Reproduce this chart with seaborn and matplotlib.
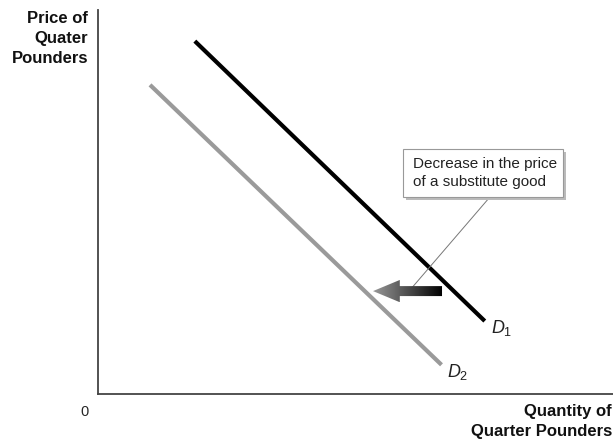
import matplotlib
matplotlib.use("Agg")
import matplotlib.pyplot as plt
import numpy as np
import pandas as pd
import seaborn as sns
from matplotlib.patches import Polygon, Rectangle

# demand curves (quantity, price) on a 0-100 scale
d1_q = [18.8, 75.1]
d1_p = [91.9, 19.0]
d2_q = [10.1, 66.7]
d2_p = [80.5, 7.6]

# shift arrow: tail -> tip, at constant price
shift_q = [66.8, 53.4]
shift_p = 26.8

callout_text = "Decrease in the price\nof a substitute good"
y_label = "Price of\nQuater\nPounders"
x_label = "Quantity of\nQuarter Pounders"

curves = pd.concat([
    pd.DataFrame({"q": d1_q, "p": d1_p, "curve": "D1"}),
    pd.DataFrame({"q": d2_q, "p": d2_p, "curve": "D2"}),
])

sns.set_style("white")
plt.rcParams["font.family"] = ["Liberation Sans", "DejaVu Sans"]
plt.rcParams["mathtext.fontset"] = "custom"
plt.rcParams["mathtext.rm"] = "Liberation Sans"
plt.rcParams["mathtext.it"] = "Liberation Sans:italic"

fig = plt.figure(figsize=(6.13, 4.4), dpi=100)
ax = fig.add_axes([98 / 613, 46 / 440, 515 / 613, 384 / 440])

sns.lineplot(data=curves, x="q", y="p", hue="curve", palette={"D1": "black", "D2": "#9a9a9a"},
             linewidth=3.0, legend=False, ax=ax, solid_capstyle="butt", sort=False)

ax.set_xlim(0, 100)
ax.set_ylim(0, 100)
ax.set_xlabel("")
ax.set_ylabel("")
ax.set_xticks([])
ax.set_yticks([])
for side in ["top", "right"]:
    ax.spines[side].set_visible(False)
for side in ["left", "bottom"]:
    ax.spines[side].set_color("#444444")
    ax.spines[side].set_linewidth(1.3)

# curve labels
ax.text(d1_q[1] + 1.2, d1_p[1] - 1.8, r"$D_{\mathrm{1}}$", fontsize=13, va="center", ha="left",
        color="#222222")
ax.text(d2_q[1] + 1.0, d2_p[1] - 1.8, r"$D_{\mathrm{2}}$", fontsize=13, va="center", ha="left",
        color="#222222")

# gradient arrow
tail, tip = shift_q
head_len = 5.2
body_h, head_h = 1.3, 2.9
verts = [(tip, shift_p), (tip + head_len, shift_p + head_h), (tip + head_len, shift_p + body_h),
         (tail, shift_p + body_h), (tail, shift_p - body_h), (tip + head_len, shift_p - body_h),
         (tip + head_len, shift_p - head_h)]
poly = Polygon(verts, closed=True, facecolor="none", edgecolor="none")
ax.add_patch(poly)
grad = np.linspace(0.6, 0.0, 256).reshape(1, -1)
im = ax.imshow(grad, cmap="gray", vmin=0, vmax=1, aspect="auto",
               extent=[tip, tail, shift_p - head_h, shift_p + head_h], zorder=3)
im.set_clip_path(poly)

# leader line and callout box
ax.plot([60.4, 76.1], [shift_p, 51.3], color="#777777", linewidth=0.7, zorder=2)
ax.add_patch(Rectangle((59.8, 50.5), 31.1, 12.5, facecolor="#bbbbbb", edgecolor="none", zorder=4))
ax.add_patch(Rectangle((59.2, 51.3), 31.1, 12.5, facecolor="white", edgecolor="#999999",
                       linewidth=0.8, zorder=5))
ax.text(61.2, 57.6, callout_text, fontsize=11, va="center", ha="left", linespacing=1.35,
        color="#222222", zorder=6)

# axis titles
fig.text(88 / 613, 1 - 11 / 440, y_label, fontsize=12, fontweight="bold", ha="right", va="top",
         linespacing=1.4, color="#111111")
fig.text(612 / 613, 1 - 404 / 440, x_label, fontsize=12, fontweight="bold", ha="right", va="top",
         linespacing=1.4, color="#111111")
fig.text(84.5 / 613, 1 - 412 / 440, "0", fontsize=10.5, ha="center", va="center")

fig.savefig("out.png", dpi=100)
